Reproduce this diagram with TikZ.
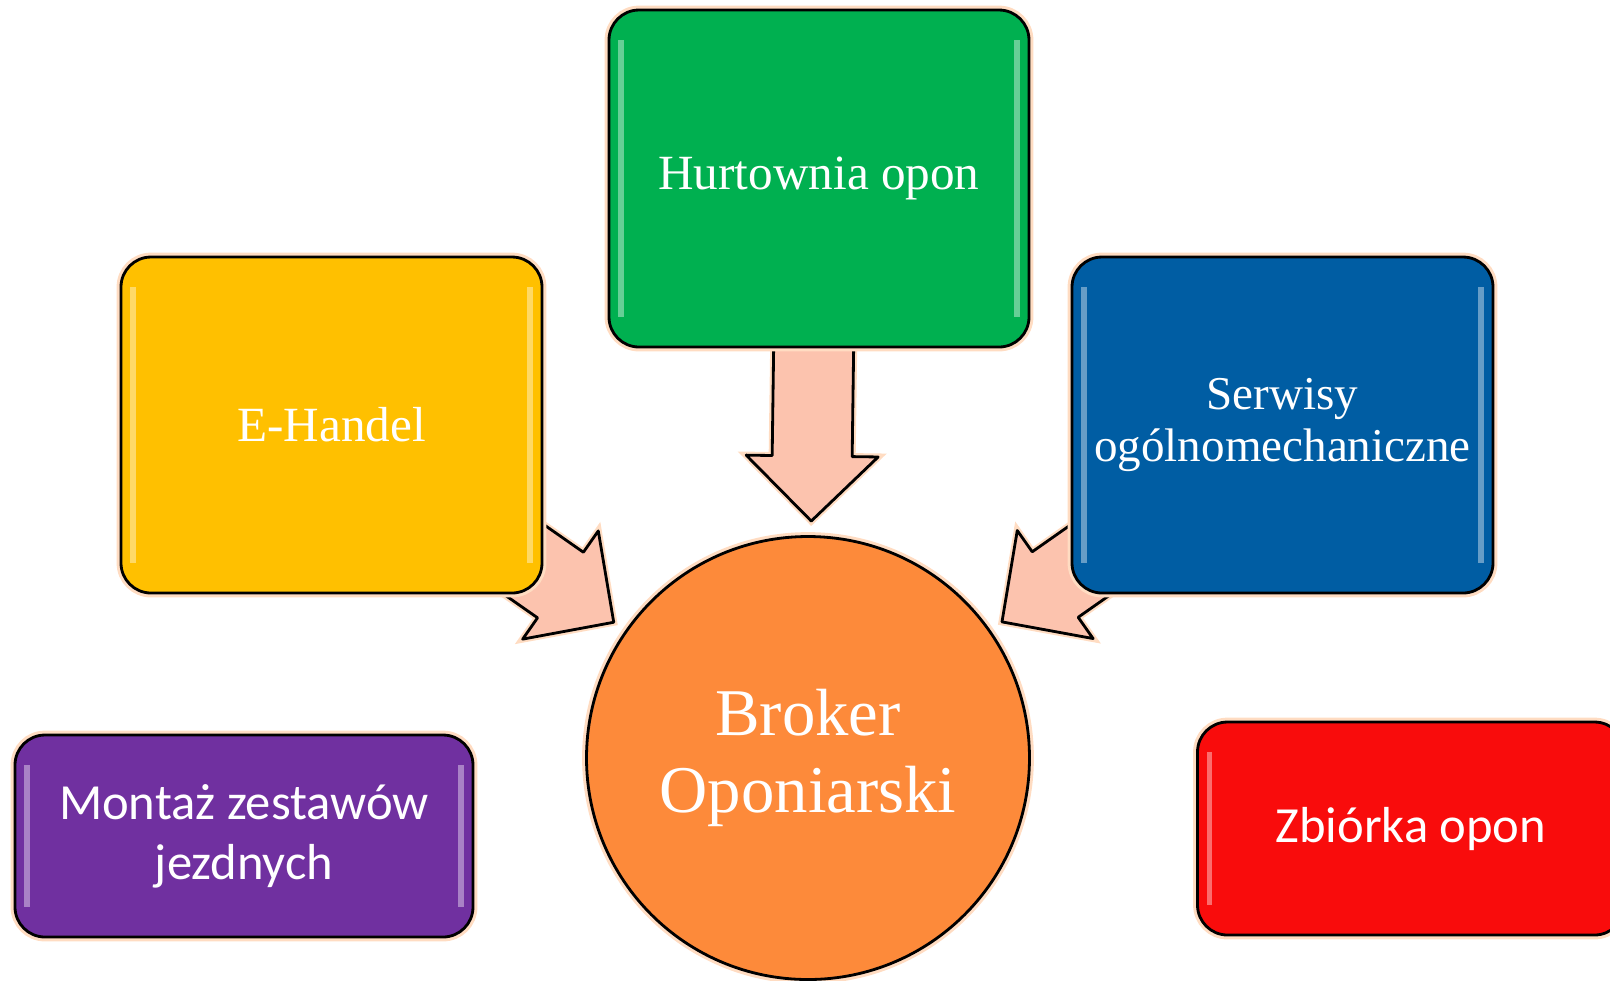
\documentclass[tikz,border=0pt]{standalone}
\usepackage{fontspec}
\setmainfont{Liberation Serif}
\newfontfamily\calibri{Carlito}
\usetikzlibrary{calc}
\pgfdeclarelayer{bg}
\pgfsetlayers{bg,main}
\definecolor{zielony}{HTML}{00B050}
\definecolor{zolty}{HTML}{FFC000}
\definecolor{niebieski}{HTML}{005DA3}
\definecolor{fioletowy}{HTML}{7030A0}
\definecolor{czerwony}{HTML}{F90C0C}
\definecolor{pomaranczowy}{HTML}{FD8A3A}
\definecolor{rozowy}{HTML}{FCC3AE}
\definecolor{poswiata}{HTML}{FFDCC2}
% strzalka blokowa od #1 do #2
\newcommand{\strzalka}[2]{%
  \coordinate (tip) at ($(#2.center)!2.37cm!(#1.center)$);
  \coordinate (base) at ($(tip)!0.65cm!(#1.center)$);
  \draw[strz] ($(#1.center)!0.4cm!90:(tip)$) -- ($(base)!0.4cm!-90:(#1.center)$)
    -- ($(base)!0.66cm!-90:(#1.center)$) -- (tip) -- ($(base)!0.66cm!90:(#1.center)$)
    -- ($(base)!0.4cm!90:(#1.center)$) -- ($(#1.center)!0.4cm!-90:(tip)$) -- cycle;}
\begin{document}
\begin{tikzpicture}[
  box/.style={rectangle, rounded corners=0.3cm, draw=black, line width=0.8pt,
    preaction={draw=poswiata, line width=2.5pt}, text=white, align=center,
    path picture={
      \draw[white, opacity=0.4, line width=1.5pt]
        ([xshift=0.12cm,yshift=-0.3cm]path picture bounding box.north west)
        -- ([xshift=0.12cm,yshift=0.3cm]path picture bounding box.south west)
        ([xshift=-0.12cm,yshift=-0.3cm]path picture bounding box.north east)
        -- ([xshift=-0.12cm,yshift=0.3cm]path picture bounding box.south east);}},
  serif/.style={font=\fontsize{14}{15}\selectfont},
  sans/.style={font=\calibri\fontsize{14.4}{17}\selectfont},
  strz/.style={draw=black, line width=0.8pt, fill=rozowy, line join=round,
    preaction={draw=poswiata, line width=2pt}}]
\useasboundingbox (0,0) rectangle (16.1,-9.8);
\node (broker) [circle, draw=black, line width=0.8pt, fill=pomaranczowy,
  preaction={draw=poswiata, line width=2.5pt}, minimum size=4.43cm, inner sep=0pt,
  text=white, align=center, font=\fontsize{19}{22}\selectfont] at (8.08,-7.58) {Broker\\Oponiarski};
\node (hurt) [box, serif, fill=zielony, minimum width=4.2cm, minimum height=3.37cm] at (8.19,-1.785) {Hurtownia opon};
\node (ehandel) [box, serif, fill=zolty, minimum width=4.21cm, minimum height=3.36cm] at (3.315,-4.25) {E-Handel};
\node (serwisy) [box, fill=niebieski, minimum width=4.21cm, minimum height=3.36cm,
  font=\fontsize{13.4}{15}\selectfont] at (12.825,-4.25) {Serwisy\\ogólnomechaniczne};
\node (montaz) [box, sans, fill=fioletowy, minimum width=4.58cm, minimum height=2.02cm] at (2.44,-8.36) {Montaż zestawów\\jezdnych};
\node (zbiorka) [box, sans, fill=czerwony, minimum width=4.27cm, minimum height=2.13cm] at (14.11,-8.285) {Zbiórka opon};
\coordinate (hurtsrc) at (8.16,-1.785);
\begin{pgfonlayer}{bg}
\strzalka{hurtsrc}{broker}
\strzalka{ehandel}{broker}
\strzalka{serwisy}{broker}
\end{pgfonlayer}
\end{tikzpicture}
\end{document}
